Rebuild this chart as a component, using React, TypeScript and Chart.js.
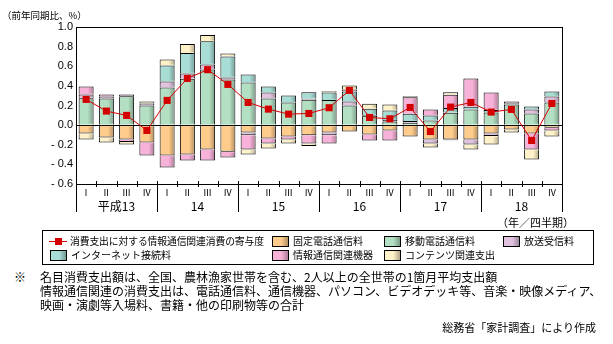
import React, { useEffect, useRef } from "react";
import { Chart, registerables } from "chart.js";

Chart.register(...registerables);

const quarterLabels = [
  "Ⅰ", "Ⅱ", "Ⅲ", "Ⅳ", "Ⅰ", "Ⅱ", "Ⅲ", "Ⅳ", "Ⅰ", "Ⅱ", "Ⅲ", "Ⅳ",
  "Ⅰ", "Ⅱ", "Ⅲ", "Ⅳ", "Ⅰ", "Ⅱ", "Ⅲ", "Ⅳ", "Ⅰ", "Ⅱ", "Ⅲ", "Ⅳ",
];
const yearLabels = ["平成13", "14", "15", "16", "17", "18"];

const fixedPhone = [-0.085, -0.126, -0.146, -0.177, -0.31, -0.3, -0.248, -0.272, -0.075, -0.136, -0.116, -0.102, -0.075, -0.065, -0.095, -0.054, -0.116, -0.146, -0.146, -0.146, -0.085, -0.044, -0.085, -0.027];
const mobilePhone = [0.275, 0.272, 0.293, 0.2, 0.384, 0.473, 0.568, 0.466, 0.435, 0.272, 0.231, 0.259, 0.255, 0.2, 0.095, 0.037, 0.024, 0.048, 0.126, 0.16, 0.129, 0.211, 0.119, 0.231];
const broadcast = [0.037, 0.02, 0.02, 0.02, 0.061, 0.054, 0.051, 0.02, -0.027, 0.061, null, 0.01, -0.027, 0.041, 0.007, 0.014, 0.017, -0.041, -0.008, -0.051, -0.027, null, 0.041, 0.061];
const internet = [null, null, null, null, 0.163, 0.207, 0.235, 0.214, 0.082, 0.061, 0.071, 0.065, 0.078, 0.102, 0.065, 0.099, 0.075, 0.051, 0.048, 0.027, 0.024, 0.012, 0.031, 0.051];
const devices = [0.082, 0.02, -0.027, -0.133, -0.122, -0.061, -0.112, -0.058, -0.146, -0.051, -0.031, -0.085, -0.085, 0.02, -0.061, -0.102, 0.167, 0.061, 0.136, 0.289, 0.18, 0.017, -0.163, -0.027];
const contents = [-0.061, -0.051, -0.024, 0.02, 0.061, 0.092, 0.065, 0.031, -0.051, -0.051, -0.041, -0.027, 0.012, 0.041, 0.051, 0.061, 0.01, -0.041, 0.024, -0.051, -0.085, -0.031, -0.102, -0.061];
const contribution = [0.262, 0.143, 0.099, -0.054, 0.252, 0.476, 0.565, 0.415, 0.231, 0.163, 0.112, 0.119, 0.177, 0.354, 0.078, 0.065, 0.18, -0.065, 0.184, 0.231, 0.133, 0.16, -0.156, 0.221];

const seriesNames = ["固定電話通信料", "移動電話通信料", "放送受信料", "インターネット接続料", "情報通信関連機器", "コンテンツ関連支出"];
const lineName = "消費支出に対する情報通信関連消費の寄与度";

const COLORS = {
  fixed: "#FFCC8C",
  mobile: "#B3E0C3",
  broadcast: "#E1C3E0",
  internet: "#A8DDD6",
  devices: "#F8B2D9",
  contents: "#FFF2C8",
  line: "#D40000",
};

const JP = '"Noto Sans CJK JP", sans-serif';

const decoPlugin = {
  id: "deco",
  afterDatasetDraw(chart: any, args: any) {
    const meta = args.meta;
    if (meta.type !== "bar") return;
    const ctx = chart.ctx;
    ctx.save();
    meta.data.forEach((el: any) => {
      const p = el.getProps(["x", "y", "base", "width"], true);
      const top = Math.min(p.y, p.base);
      const bottom = Math.max(p.y, p.base);
      if (bottom - top < 2.5) return;
      const left = p.x - p.width / 2;
      const right = p.x + p.width / 2;
      const g = ctx.createLinearGradient(left, 0, right, 0);
      g.addColorStop(0, "rgba(255,255,255,0)");
      g.addColorStop(0.6, "rgba(0,0,0,0)");
      g.addColorStop(1, "rgba(0,0,0,0.3)");
      ctx.fillStyle = g;
      ctx.fillRect(left + 1, top + 1, p.width - 2, bottom - top - 2);
    });
    ctx.restore();
  },
  afterDraw(chart: any) {
    const ctx = chart.ctx;
    const a = chart.chartArea;
    const xs = chart.scales.x;
    ctx.save();
    ctx.strokeStyle = "#000";
    ctx.lineWidth = 1;
    ctx.beginPath();
    ctx.moveTo(a.left, Math.round(a.top) + 0.5);
    ctx.lineTo(a.right, Math.round(a.top) + 0.5);
    ctx.moveTo(Math.round(a.right) + 0.5, a.top);
    ctx.lineTo(Math.round(a.right) + 0.5, a.bottom);
    for (let i = 0; i <= quarterLabels.length; i++) {
      const px = Math.round(xs.getPixelForValue(i - 0.5)) + 0.5;
      const isYear = i % 4 === 0;
      ctx.moveTo(px, a.bottom - 3);
      ctx.lineTo(px, isYear ? a.bottom + 28 : a.bottom + 3);
    }
    ctx.stroke();
    ctx.restore();
  },
};

function Swatch({ color }: { color: string }) {
  return (
    <span
      style={{
        display: "inline-block",
        flex: "0 0 auto",
        width: 15,
        height: 9,
        border: "1px solid #000",
        background: `linear-gradient(to right, ${color} 0%, ${color} 55%, rgba(0,0,0,0.3) 100%), ${color}`,
        boxSizing: "content-box",
      }}
    />
  );
}

export default function App() {
  const ref = useRef<HTMLCanvasElement | null>(null);

  useEffect(() => {
    document.body.style.margin = "0";
    const canvas = ref.current;
    if (!canvas) return;
    const barCommon = {
      type: "bar" as const,
      stack: "s",
      borderColor: "#000",
      borderWidth: 1,
      barPercentage: 0.74,
      categoryPercentage: 1,
      order: 2,
      xAxisID: "x",
    };
    const chart = new Chart(canvas, {
      type: "bar",
      data: {
        labels: quarterLabels,
        datasets: [
          { ...barCommon, label: seriesNames[0], data: fixedPhone, backgroundColor: COLORS.fixed },
          { ...barCommon, label: seriesNames[1], data: mobilePhone, backgroundColor: COLORS.mobile },
          { ...barCommon, label: seriesNames[2], data: broadcast, backgroundColor: COLORS.broadcast },
          { ...barCommon, label: seriesNames[3], data: internet, backgroundColor: COLORS.internet },
          { ...barCommon, label: seriesNames[4], data: devices, backgroundColor: COLORS.devices },
          { ...barCommon, label: seriesNames[5], data: contents, backgroundColor: COLORS.contents },
          {
            type: "line" as const,
            label: lineName,
            data: contribution,
            stack: "line",
            order: 1,
            xAxisID: "x",
            borderColor: COLORS.line,
            borderWidth: 1,
            pointStyle: "rect",
            pointRadius: 5,
            pointBackgroundColor: COLORS.line,
            pointBorderWidth: 0,
            tension: 0,
          } as any,
        ],
      },
      options: {
        animation: false,
        responsive: false,
        devicePixelRatio: 1,
        layout: { padding: { top: 27, right: 51, left: 0, bottom: 0 } },
        plugins: { legend: { display: false }, tooltip: { enabled: false } },
        scales: {
          x: {
            type: "category",
            stacked: true,
            offset: true,
            weight: 0,
            grid: { display: false, drawTicks: false },
            border: { display: true, color: "#000", width: 1 },
            ticks: {
              autoSkip: false,
              maxRotation: 0,
              padding: 3,
              color: "#000",
              font: { family: JP, size: 9 },
            },
            afterFit: (s: any) => { s.height = 14; },
          },
          xYear: {
            type: "category",
            labels: yearLabels,
            position: "bottom",
            offset: true,
            weight: 1,
            grid: { display: false, drawTicks: false },
            border: { display: false },
            ticks: {
              autoSkip: false,
              maxRotation: 0,
              padding: 1,
              color: "#000",
              font: { family: JP, size: 12 },
            },
            afterFit: (s: any) => { s.height = 32; },
          },
          y: {
            stacked: true,
            min: -0.6,
            max: 1.0,
            ticks: {
              stepSize: 0.2,
              padding: 3,
              color: "#000",
              font: { family: '"Liberation Sans", Arial, sans-serif', size: 11 },
              callback: (v: any) => {
                const n = Number(v);
                if (Math.abs(n) < 1e-9) return "0.0";
                return n < 0 ? "- " + Math.abs(n).toFixed(1) : n.toFixed(1);
              },
            },
            grid: {
              drawTicks: false,
              color: (c: any) => (c.tick && Math.abs(c.tick.value) < 1e-9 ? "#000" : "rgba(0,0,0,0)"),
              lineWidth: 1,
            },
            border: { display: true, color: "#000", width: 1 },
            afterFit: (s: any) => { s.width = 76; },
          },
        },
      } as any,
      plugins: [decoPlugin],
    });
    return () => chart.destroy();
  }, []);

  const legendText: React.CSSProperties = { fontFamily: JP, fontSize: 10, color: "#000", whiteSpace: "nowrap", marginLeft: 4, lineHeight: "14px" };
  const item = (left: number, top: number, color: string, text: string) => (
    <div style={{ position: "absolute", left, top, display: "flex", alignItems: "center", height: 14 }}>
      <Swatch color={color} />
      <span style={legendText}>{text}</span>
    </div>
  );

  return (
    <div style={{ position: "relative", width: 613, height: 344, background: "#fff", overflow: "hidden" }}>
      <canvas ref={ref} width={613} height={230} style={{ position: "absolute", left: 0, top: 0, width: 613, height: 230 }} />
      <div style={{ position: "absolute", left: 2, top: 8, fontFamily: JP, fontSize: 9.5, whiteSpace: "nowrap", lineHeight: "14px" }}>（前年同期比、%）</div>
      <div style={{ position: "absolute", left: 497, top: 215, fontFamily: JP, fontSize: 11, whiteSpace: "nowrap", lineHeight: "14px" }}>（年／四半期）</div>

      <div style={{ position: "absolute", left: 42, top: 230, width: 550, height: 33, border: "1px solid #000" }} />
      <div style={{ position: "absolute", left: 49, top: 234, display: "flex", alignItems: "center", height: 14 }}>
        <span style={{ position: "relative", display: "inline-block", flex: "0 0 auto", width: 18, height: 7 }}>
          <span style={{ position: "absolute", left: 0, top: 3, width: 18, height: 1, background: COLORS.line }} />
          <span style={{ position: "absolute", left: 6, top: 0, width: 7, height: 7, background: COLORS.line }} />
        </span>
        <span style={{ ...legendText, fontSize: 9.8, marginLeft: 3, letterSpacing: -0.1 }}>{lineName}</span>
      </div>
      {item(272, 234, COLORS.fixed, seriesNames[0])}
      {item(384, 234, COLORS.mobile, seriesNames[1])}
      {item(503, 234, COLORS.broadcast, seriesNames[2])}
      {item(50, 248, COLORS.internet, seriesNames[3])}
      {item(272, 248, COLORS.devices, seriesNames[4])}
      {item(384, 248, COLORS.contents, seriesNames[5])}

      <div style={{ position: "absolute", left: 14, top: 270, fontFamily: JP, fontSize: 12, lineHeight: "14px" }}>※</div>
      <div style={{ position: "absolute", left: 40, top: 270, fontFamily: JP, fontSize: 12, lineHeight: "14px", whiteSpace: "nowrap" }}>
        <div>名目消費支出額は、全国、農林漁家世帯を含む、2人以上の全世帯の1箇月平均支出額</div>
        <div>情報通信関連の消費支出は、電話通信料、通信機器、パソコン、ビデオデッキ等、音楽・映像メディア、</div>
        <div>映画・演劇等入場料、書籍・他の印刷物等の合計</div>
      </div>
      <div style={{ position: "absolute", right: 17, top: 320, fontFamily: JP, fontSize: 11, lineHeight: "14px", whiteSpace: "nowrap" }}>総務省「家計調査」により作成</div>
    </div>
  );
}
